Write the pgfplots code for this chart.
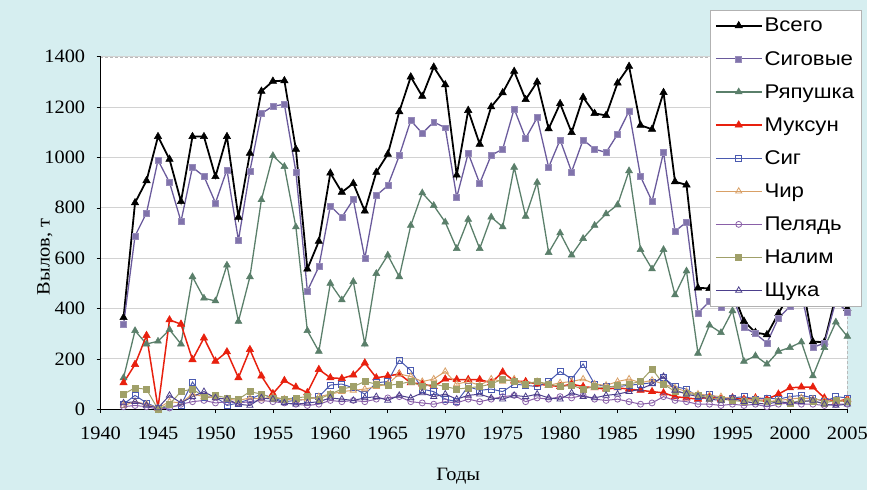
\documentclass[border=0pt]{standalone}
\usepackage{pgfplots}
\pgfplotsset{compat=1.18}
\usepackage{pgfplotstable}
\usepackage{fontspec}
\setmainfont[FakeStretch=1.08]{Liberation Serif}
\newfontfamily\legfont[FakeStretch=1.12]{Liberation Sans}
\definecolor{bg}{RGB}{214,238,240}
\definecolor{cSg}{RGB}{106,90,156}
\definecolor{cRy}{RGB}{90,127,106}
\definecolor{cMu}{RGB}{232,32,14}
\definecolor{cSi}{RGB}{74,90,176}
\definecolor{cCh}{RGB}{217,160,102}
\definecolor{cPe}{RGB}{138,96,168}
\definecolor{cNa}{RGB}{160,160,105}
\definecolor{cSh}{RGB}{76,63,140}
\pgfplotstableread{
year vs sg ry mu si ch pe na sh
1942 364 336 125 105 20 15 10 60 25
1943 820 688 312 178 55 30 15 85 30
1944 908 780 259 293 25 20 10 79 15
1945 1083 989 270 5 5 5 0 0 5
1946 993 901 316 355 10 30 5 20 55
1947 825 746 259 338 15 25 20 70 25
1948 1083 961 526 197 108 60 30 80 50
1949 1083 925 441 283 45 50 35 50 70
1950 924 820 430 191 50 45 25 55 45
1951 1083 951 572 228 15 40 30 45 40
1952 763 671 349 125 25 35 25 40 20
1953 1017 947 526 237 40 45 30 70 15
1954 1263 1174 832 132 60 40 35 60 45
1955 1303 1204 1007 62 45 50 30 45 40
1956 1305 1211 964 114 30 40 25 40 25
1957 1033 943 724 88 35 35 20 45 20
1958 557 470 312 66 40 40 15 50 25
1959 667 566 230 158 50 50 20 40 30
1960 938 807 500 125 96 60 35 60 45
1961 862 763 434 122 100 70 30 80 40
1962 897 833 507 136 85 75 35 90 35
1963 787 599 259 184 60 80 30 110 45
1964 941 849 539 125 105 90 40 100 50
1965 1013 888 612 132 110 100 45 95 35
1966 1182 1007 526 140 195 140 50 100 55
1967 1320 1147 730 105 154 130 30 110 45
1968 1243 1096 859 100 80 110 25 90 65
1969 1359 1141 809 90 70 120 20 100 50
1970 1289 1118 743 120 40 150 30 90 60
1971 930 842 638 118 30 100 25 80 40
1972 1187 1017 754 118 90 110 40 85 55
1973 1053 897 638 118 75 95 30 90 60
1974 1201 1009 763 105 80 120 40 100 45
1975 1257 1033 724 148 70 110 50 120 40
1976 1342 1193 961 112 100 120 55 110 55
1977 1230 1076 766 110 95 100 30 100 50
1978 1300 1158 901 100 90 110 45 110 60
1979 1114 961 622 95 110 95 40 100 45
1980 1214 1070 700 90 150 105 50 90 40
1981 1099 943 612 100 120 110 45 95 65
1982 1239 1070 678 90 180 120 55 80 50
1983 1175 1033 730 85 100 100 40 90 45
1984 1167 1020 776 80 90 95 35 85 55
1985 1296 1092 812 85 90 110 40 95 60
1986 1362 1184 947 80 95 120 30 100 70
1987 1128 924 634 75 100 105 20 110 80
1988 1112 826 557 70 105 115 25 160 100
1989 1258 1020 634 65 125 100 50 100 130
1990 904 707 454 50 90 85 35 70 75
1991 891 743 549 45 80 70 30 65 60
1992 482 382 222 40 50 60 20 55 50
1993 480 428 334 50 60 55 20 45 40
1994 465 404 304 40 40 50 15 40 35
1995 470 450 391 45 45 40 20 35 45
1996 350 325 190 40 50 35 15 30 30
1997 305 300 212 45 40 40 20 35 25
1998 296 263 179 40 45 30 10 30 20
1999 380 362 230 60 40 35 20 30 30
2000 460 408 245 85 50 40 25 25 25
2001 520 460 267 88 55 45 20 35 30
2002 268 246 132 88 45 40 20 30 35
2003 267 262 245 45 30 35 15 25 20
2004 450 430 346 30 50 30 20 35 15
2005 400 386 289 40 45 35 20 30 20
}\data
\begin{document}
\begin{tikzpicture}
\fill[bg] (0bp,0bp) rectangle (871bp,492bp);
\begin{axis}[
  at={(101bp,81bp)}, anchor=south west,
  width=750bp, height=354bp, scale only axis,
  xmin=1940, xmax=2005, ymin=0, ymax=1400,
  xtick={1940,1945,...,2005}, ytick={0,200,...,1400},
  /pgf/number format/1000 sep={},
  /pgf/number format/assume math mode=true,
  ticklabel style={font=\fontsize{19}{21}\selectfont},
  yticklabel style={xshift=-8bp},
  xticklabel style={yshift=-10bp},
  tick align=outside, xtick pos=bottom, ytick pos=left,
  major tick length=4bp,
  tick style={black, line width=0.6pt},
  axis background/.style={fill=white},
  axis line style={gray!55, densely dashed},
  ymajorgrids, grid style={gray!35, line width=0.8pt},
  xlabel={Годы}, ylabel={Вылов, т},
  label style={font=\fontsize{19}{21}\selectfont},
  xlabel style={at={(rel axis cs:0.479,0)}, anchor=center, yshift=-67bp},
  ylabel style={at={(rel axis cs:0,0.432)}, anchor=center, yshift=56bp},
  legend cell align=left,
  legend style={at={(rel axis cs:1.0187,1.1328)}, anchor=north east,
    draw=gray!60, fill=white, font=\legfont\fontsize{20}{22}\selectfont,
    row sep=14bp, inner xsep=5bp, inner ysep=6bp},
  legend image code/.code={\draw[mark repeat=2,mark phase=2,#1] plot coordinates {(0bp,0bp) (23bp,0bp) (46bp,0bp)};},
  clip=false,
]
\draw[black, line width=0.8pt] (rel axis cs:0,1) -- (rel axis cs:0,0) -- (rel axis cs:1,0);
\addplot[black, line width=1.8pt, mark=triangle*, mark size=4.3bp, mark options={solid, fill=black, line width=0.5pt}] table[x=year,y=vs]{\data};
\addlegendentry{Всего}
\addplot[cSg, line width=1.3pt, mark=square*, mark size=3bp, mark options={fill=cSg!85, draw=cSg!70, line width=0.5pt}] table[x=year,y=sg]{\data};
\addlegendentry{Сиговые}
\addplot[cRy, line width=1.3pt, mark=triangle*, mark size=4bp, mark options={fill=cRy, draw=cRy, line width=0.5pt}] table[x=year,y=ry]{\data};
\addlegendentry{Ряпушка}
\addplot[cMu, line width=1.5pt, mark=triangle*, mark size=4.3bp, mark options={fill=cMu, draw=cMu, line width=0.5pt}] table[x=year,y=mu]{\data};
\addlegendentry{Муксун}
\addplot[cSi, line width=1pt, mark=square, mark size=3bp, mark options={fill=white, line width=0.8pt}] table[x=year,y=si]{\data};
\addlegendentry{Сиг}
\addplot[cCh, line width=1pt, mark=triangle, mark size=3.6bp, mark options={fill=white, line width=0.8pt}] table[x=year,y=ch]{\data};
\addlegendentry{Чир}
\addplot[cPe, line width=1pt, mark=o, mark size=3bp, mark options={fill=white, line width=0.8pt}] table[x=year,y=pe]{\data};
\addlegendentry{Пелядь}
\addplot[cNa, line width=1pt, mark=square*, mark size=3bp, mark options={fill=cNa, draw=cNa, line width=0.5pt}] table[x=year,y=na]{\data};
\addlegendentry{Налим}
\addplot[cSh, line width=1pt, mark=triangle, mark size=3.6bp, mark options={fill=white, line width=0.8pt}] table[x=year,y=sh]{\data};
\addlegendentry{Щука}
\end{axis}
\end{tikzpicture}
\end{document}
